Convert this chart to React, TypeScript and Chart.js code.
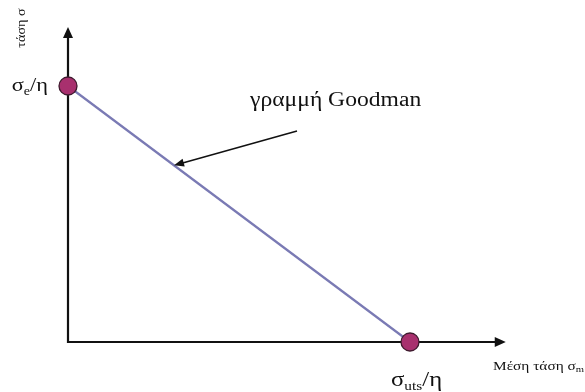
import React, { useEffect, useRef } from "react";
import { Chart, registerables } from "chart.js";

Chart.register(...registerables);

// Goodman line endpoints: (mean stress, alternating stress), normalised
const lineX = [0, 1];
const lineY = [1, 0];

// Axis extents (arrow tips), in the same normalised units
const axisEndX = 1.28;
const axisEndY = 1.23;

const yAxisTitle = "τάση σ";
const xAxisTitle = "Μέση τάση σ";
const xAxisTitleSub = "m";
const lineLabel = "γραμμή Goodman";
const topPointLabel = ["σ", "e", "/η"];
const rightPointLabel = ["σ", "uts", "/η"];

const SERIF = "'Liberation Serif', 'DejaVu Serif', serif";
// the lettering is set slightly wide
const STRETCH = 1.18;

function drawArrowHead(ctx: CanvasRenderingContext2D, x: number, y: number, ang: number, len: number, half: number) {
  ctx.save();
  ctx.translate(x, y);
  ctx.rotate(ang);
  ctx.beginPath();
  ctx.moveTo(0, 0);
  ctx.lineTo(-len, -half);
  ctx.lineTo(-len, half);
  ctx.closePath();
  ctx.fill();
  ctx.restore();
}

function wideText(ctx: CanvasRenderingContext2D, text: string, x: number, y: number, font: string) {
  ctx.save();
  ctx.font = font;
  ctx.textAlign = "left";
  ctx.textBaseline = "alphabetic";
  ctx.translate(x, y);
  ctx.scale(STRETCH, 1);
  ctx.fillText(text, 0, 0);
  const w = ctx.measureText(text).width * STRETCH;
  ctx.restore();
  return w;
}

function measureWide(ctx: CanvasRenderingContext2D, text: string, font: string) {
  ctx.save();
  ctx.font = font;
  const w = ctx.measureText(text).width * STRETCH;
  ctx.restore();
  return w;
}

function drawSubLabel(ctx: CanvasRenderingContext2D, parts: string[], x: number, y: number, big: number, small: number, align: "left" | "right") {
  const fb = `${big}px ${SERIF}`;
  const fs = `${small}px ${SERIF}`;
  const total = measureWide(ctx, parts[0], fb) + measureWide(ctx, parts[1], fs) + measureWide(ctx, parts[2], fb);
  let cx = align === "right" ? x - total : x;
  cx += wideText(ctx, parts[0], cx, y, fb);
  cx += wideText(ctx, parts[1], cx, y + 4, fs);
  wideText(ctx, parts[2], cx, y, fb);
}

const axesPlugin = {
  id: "goodmanAxes",
  beforeDatasetsDraw(chart: any) {
    const { ctx, scales } = chart;
    const xs = scales.x;
    const ys = scales.y;
    const ox = xs.getPixelForValue(0);
    const oy = ys.getPixelForValue(0);
    const xe = xs.getPixelForValue(axisEndX);
    const ye = ys.getPixelForValue(axisEndY);
    ctx.save();
    ctx.strokeStyle = "#111";
    ctx.fillStyle = "#111";
    ctx.lineWidth = 2.2;
    ctx.lineCap = "square";
    ctx.beginPath();
    ctx.moveTo(ox, oy);
    ctx.lineTo(xe - 8, oy);
    ctx.moveTo(ox, oy);
    ctx.lineTo(ox, ye + 8);
    ctx.stroke();
    drawArrowHead(ctx, xe, oy, 0, 11, 5);
    drawArrowHead(ctx, ox, ye, -Math.PI / 2, 11, 5);
    ctx.restore();
  },
  afterDatasetsDraw(chart: any) {
    const { ctx, scales } = chart;
    const xs = scales.x;
    const ys = scales.y;
    const ox = xs.getPixelForValue(0);
    const oy = ys.getPixelForValue(0);
    const topY = ys.getPixelForValue(lineY[0]);
    const rightX = xs.getPixelForValue(lineX[1]);
    ctx.save();
    ctx.fillStyle = "#111";

    // point labels
    drawSubLabel(ctx, topPointLabel, ox - 20, topY + 5, 19, 12, "right");
    drawSubLabel(ctx, rightPointLabel, rightX - 19, oy + 44, 21, 13, "left");

    // line label and pointer arrow
    wideText(ctx, lineLabel, 250, 106, `20px ${SERIF}`);
    const ax0 = 297, ay0 = 131;
    const pt = { x: xs.getPixelForValue(0.31), y: ys.getPixelForValue(0.69) };
    const ang = Math.atan2(pt.y - ay0, pt.x - ax0);
    ctx.strokeStyle = "#111";
    ctx.lineWidth = 1.5;
    ctx.beginPath();
    ctx.moveTo(ax0, ay0);
    ctx.lineTo(pt.x - 8 * Math.cos(ang), pt.y - 8 * Math.sin(ang));
    ctx.stroke();
    drawArrowHead(ctx, pt.x, pt.y, ang, 10, 4);

    // axis titles
    const wt = wideText(ctx, xAxisTitle, 493, oy + 28, `13px ${SERIF}`);
    wideText(ctx, xAxisTitleSub, 493 + wt, oy + 30, `9px ${SERIF}`);

    ctx.save();
    ctx.translate(25, 28);
    ctx.rotate(-Math.PI / 2);
    const wy = measureWide(ctx, yAxisTitle, `12px ${SERIF}`);
    wideText(ctx, yAxisTitle, -wy / 2, 0, `12px ${SERIF}`);
    ctx.restore();

    ctx.restore();
  },
};

export default function App() {
  const ref = useRef<HTMLCanvasElement>(null);
  useEffect(() => {
    if (!ref.current) return;
    const pts = lineX.map((x, i) => ({ x, y: lineY[i] }));
    const chart = new Chart(ref.current, {
      type: "scatter",
      data: {
        datasets: [
          {
            data: pts,
            showLine: true,
            borderColor: "#7a7ab4",
            borderWidth: 2.2,
            pointRadius: 0,
            clip: false,
            order: 2,
          },
          {
            data: pts,
            showLine: false,
            pointRadius: 9,
            pointBackgroundColor: "#a8306e",
            pointBorderColor: "#3f1a2e",
            pointBorderWidth: 1.3,
            clip: false,
            order: 1,
          },
        ],
      },
      options: {
        responsive: false,
        animation: false,
        layout: { padding: { left: 68, right: 72.4, top: 22, bottom: 50 } },
        plugins: { legend: { display: false }, tooltip: { enabled: false } },
        scales: {
          x: { type: "linear", min: 0, max: 1.3, display: false },
          y: { type: "linear", min: 0, max: 1.25, display: false },
        },
      },
      plugins: [axesPlugin],
    });
    return () => chart.destroy();
  }, []);
  return (
    <div style={{ position: "fixed", left: 0, top: 0, width: 585, height: 392, background: "#fff" }}>
      <canvas ref={ref} width={585} height={392} />
    </div>
  );
}
